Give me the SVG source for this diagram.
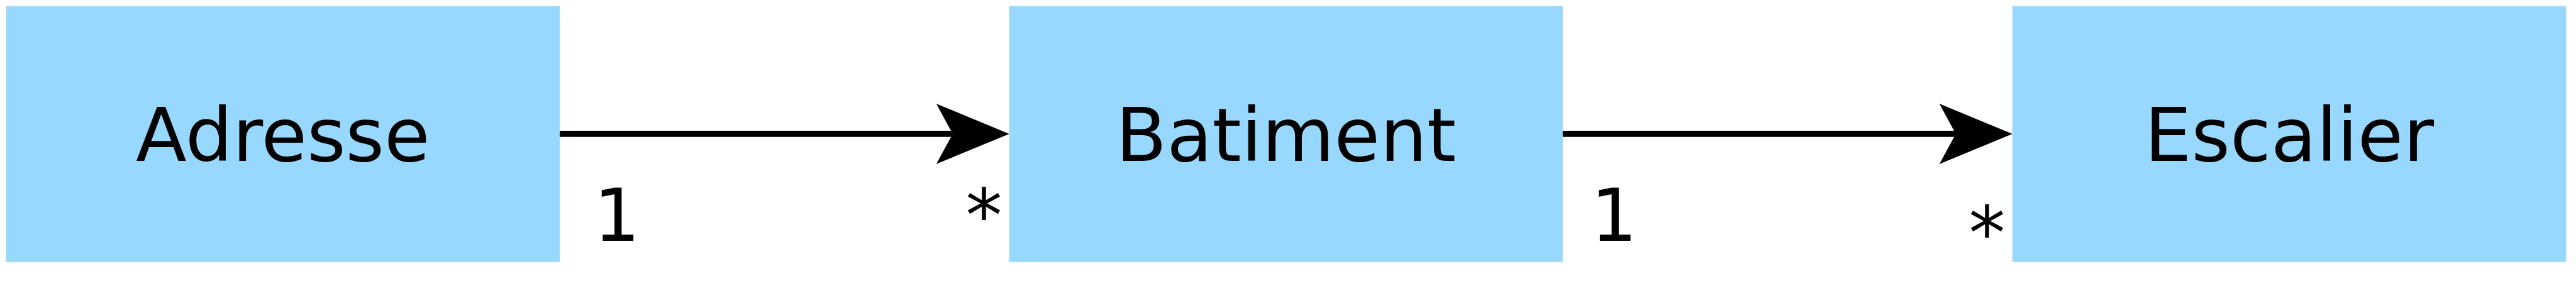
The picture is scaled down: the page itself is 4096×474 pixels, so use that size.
<svg xmlns="http://www.w3.org/2000/svg" width="4096" height="474" viewBox="0 0 4096 474">
<style>
.box{fill:#98d8fe}
.name{font-family:"DejaVu Sans",sans-serif;font-size:118px;fill:#000;text-anchor:middle}
.mult{font-family:"DejaVu Sans",sans-serif;font-size:116px;fill:#000;text-anchor:middle}
.edge{stroke:#000;stroke-width:9.7;fill:none;marker-end:url(#arr)}
</style>
<defs>
<marker id="arr" markerUnits="userSpaceOnUse" viewBox="0 0 116 96" markerWidth="116" markerHeight="96" refX="26" refY="48" orient="auto" overflow="visible">
<path d="M0,0 L116,48 L0,96 L26,48 Z" fill="#000"/>
</marker>
</defs>
<rect width="4096" height="474" fill="#fff"/>
<g id="adresse">
<rect class="box" x="9.7" y="9.7" width="880.4" height="407"/>
<text class="name" x="449.9" y="256">Adresse</text>
</g>
<g id="batiment">
<rect class="box" x="1604.8" y="9.7" width="880" height="407"/>
<text class="name" x="2044.8" y="256">Batiment</text>
</g>
<g id="escalier">
<rect class="box" x="3199.8" y="9.7" width="880.4" height="407"/>
<text class="name" x="3640" y="256">Escalier</text>
</g>
<g id="connectors">
<line class="edge" x1="890.1" y1="212.9" x2="1514.8" y2="212.9"/>
<line class="edge" x1="2484.8" y1="212.9" x2="3109.8" y2="212.9"/>
<text class="mult" x="981" y="383">1</text>
<text class="mult" x="1564.4" y="383">*</text>
<text class="mult" x="2566.5" y="383">1</text>
<text class="mult" x="3159.5" y="411">*</text>
</g>
</svg>
